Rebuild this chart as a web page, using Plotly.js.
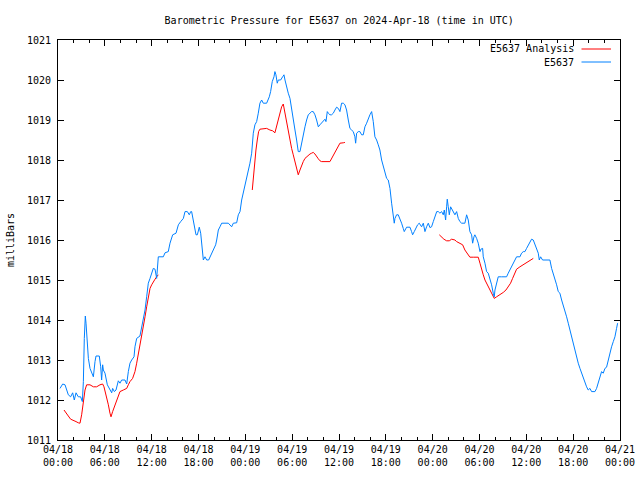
<!DOCTYPE html>
<html>
<head>
<meta charset="utf-8">
<script src="https://cdn.plot.ly/plotly-3.0.1.min.js"></script>
<style>html,body{margin:0;padding:0;background:#fff;}#chart{width:640px;height:480px;}</style>
</head>
<body>
<div id="chart"></div>
<script>
// Hours since 2024-04-18 00:00 UTC, and pressure in milliBars
const obsHours = [0.26,0.60,0.90,1.32,1.62,1.88,2.09,2.31,2.60,2.90,3.12,3.25,3.37,3.50,3.59,3.67,3.89,4.10,4.31,4.53,4.74,4.87,5.29,5.47,5.59,5.72,5.81,6.02,6.32,6.66,6.88,7.00,7.22,7.43,7.73,7.94,8.16,8.58,8.80,9.01,9.22,9.44,9.74,9.86,10.08,10.50,10.72,10.93,11.15,11.36,11.57,11.79,12.00,12.21,12.43,12.64,12.85,13.49,13.71,14.13,14.35,14.69,15.12,15.42,15.72,16.06,16.27,16.57,16.82,17.00,17.12,17.34,17.55,17.68,17.85,17.98,18.10,18.28,18.40,18.62,18.83,19.05,19.30,19.47,19.69,19.90,20.20,20.33,20.54,20.75,20.97,21.82,22.25,22.46,22.89,23.10,23.32,23.53,23.74,23.95,24.16,24.38,24.59,24.81,25.02,25.23,25.45,25.66,25.87,26.09,26.30,26.73,27.07,27.24,27.45,27.67,27.79,27.92,28.09,28.22,28.52,28.78,28.95,29.08,29.29,29.50,29.72,29.93,30.14,30.36,30.57,30.78,31.00,31.21,31.42,31.64,31.85,32.06,32.28,32.49,32.70,32.92,33.13,33.35,33.56,33.77,33.99,34.20,34.33,34.50,34.63,34.84,35.05,35.27,35.48,35.69,35.91,36.12,36.33,36.55,36.76,36.97,37.19,37.40,37.61,37.83,38.04,38.13,38.26,38.47,38.68,38.90,39.11,39.32,39.54,39.75,39.96,40.18,40.39,40.60,40.82,41.03,41.24,41.46,41.67,41.88,42.10,42.31,42.53,42.74,42.95,43.08,43.17,43.38,43.59,43.81,44.02,44.23,44.36,44.66,45.09,45.30,45.43,45.64,45.86,46.07,46.28,46.58,46.80,47.01,47.22,47.44,47.65,47.86,48.08,48.29,48.52,48.72,48.93,49.15,49.36,49.49,49.66,49.79,49.87,50.00,50.13,50.30,50.43,50.64,50.85,51.07,51.28,51.49,51.71,52.13,52.35,52.56,52.69,52.77,52.99,53.12,53.29,53.41,53.63,53.84,54.06,54.18,54.40,54.48,54.70,54.91,55.12,55.34,55.55,55.76,55.89,55.98,56.19,56.40,56.83,57.47,57.68,57.90,58.11,58.33,58.54,58.75,59.18,59.39,59.61,59.82,60.03,60.25,60.46,60.67,60.89,61.10,61.31,61.53,61.66,61.83,62.08,62.38,63.02,63.24,63.45,63.66,63.88,64.09,64.30,64.52,64.73,64.94,65.16,65.37,65.58,65.80,66.01,66.23,66.44,66.65,66.87,67.08,67.29,67.51,67.72,67.93,68.15,68.36,68.79,69.00,69.21,69.43,69.64,69.85,70.07,70.28,70.49,70.71,70.92,71.14,71.35,71.56,71.69];
const obsValues = [1012.29,1012.40,1012.38,1012.13,1012.08,1012.18,1012.00,1012.18,1012.08,1012.08,1011.96,1012.46,1013.54,1014.10,1013.92,1013.58,1013.04,1012.79,1012.67,1012.58,1012.96,1013.10,1013.10,1012.83,1012.50,1012.88,1012.75,1012.67,1012.38,1012.25,1012.18,1012.29,1012.21,1012.25,1012.48,1012.42,1012.50,1012.50,1012.40,1012.71,1012.92,1013.00,1013.08,1013.33,1013.54,1013.60,1013.83,1014.00,1014.25,1014.58,1014.92,1015.04,1015.17,1015.29,1015.27,1015.04,1015.58,1015.58,1015.68,1015.71,1015.92,1016.13,1016.17,1016.38,1016.46,1016.54,1016.71,1016.71,1016.63,1016.71,1016.71,1016.46,1016.25,1016.13,1016.13,1016.25,1016.32,1016.17,1015.88,1015.50,1015.58,1015.50,1015.50,1015.58,1015.68,1015.75,1015.88,1016.00,1016.25,1016.33,1016.42,1016.42,1016.33,1016.42,1016.43,1016.63,1016.71,1017.00,1017.17,1017.33,1017.50,1017.71,1017.92,1018.17,1018.67,1018.88,1018.96,1019.17,1019.42,1019.50,1019.42,1019.42,1019.58,1019.71,1019.96,1020.08,1020.21,1020.13,1019.92,1020.00,1020.00,1020.08,1020.13,1020.00,1019.79,1019.67,1019.54,1019.25,1019.00,1018.75,1018.50,1018.21,1018.21,1018.42,1018.67,1018.83,1019.00,1019.13,1019.17,1019.21,1019.21,1019.13,1019.00,1018.83,1018.88,1018.92,1018.96,1019.02,1018.96,1019.21,1019.17,1019.13,1019.13,1019.17,1019.25,1019.32,1019.29,1019.21,1019.42,1019.42,1019.38,1019.25,1019.00,1018.79,1018.75,1018.71,1018.58,1018.42,1018.67,1018.71,1018.71,1018.63,1018.63,1018.83,1018.92,1019.04,1019.13,1019.21,1018.96,1018.58,1018.50,1018.38,1018.25,1018.00,1017.83,1017.71,1017.54,1017.50,1017.29,1016.92,1016.67,1016.42,1016.54,1016.63,1016.63,1016.54,1016.42,1016.29,1016.21,1016.32,1016.32,1016.21,1016.13,1016.21,1016.31,1016.38,1016.42,1016.33,1016.42,1016.21,1016.33,1016.42,1016.31,1016.33,1016.46,1016.58,1016.71,1016.71,1016.67,1016.71,1016.63,1016.75,1016.50,1016.83,1017.02,1016.83,1016.63,1016.83,1016.79,1016.71,1016.63,1016.71,1016.54,1016.46,1016.42,1016.42,1016.63,1016.50,1016.33,1016.21,1016.13,1015.92,1016.08,1016.13,1016.04,1015.92,1015.71,1015.77,1015.79,1015.58,1015.42,1015.21,1015.17,1015.04,1014.88,1014.67,1014.58,1014.75,1014.92,1015.08,1015.08,1015.08,1015.17,1015.25,1015.33,1015.42,1015.50,1015.58,1015.58,1015.67,1015.71,1015.71,1015.79,1015.88,1015.96,1016.02,1016.00,1015.88,1015.79,1015.67,1015.50,1015.58,1015.50,1015.50,1015.50,1015.29,1015.17,1015.04,1014.88,1014.71,1014.67,1014.50,1014.38,1014.21,1014.08,1013.92,1013.75,1013.58,1013.42,1013.25,1013.08,1012.92,1012.79,1012.67,1012.54,1012.42,1012.33,1012.25,1012.29,1012.21,1012.21,1012.29,1012.42,1012.58,1012.71,1012.67,1012.79,1012.82,1013.00,1013.17,1013.33,1013.46,1013.58,1013.79,1013.92];

// Analysis series (null separates the three runs)
const anaHours = [0.77,1.02,1.32,1.62,1.96,2.31,2.60,2.82,3.03,3.24,3.46,3.67,4.10,4.53,4.95,5.38,5.72,5.89,6.23,6.45,6.66,6.79,7.00,7.30,7.51,7.73,7.94,8.37,8.80,9.01,9.22,9.56,9.86,10.08,10.29,10.50,10.72,10.93,11.15,11.36,11.57,11.79,12.00,12.21,12.43,12.64,12.85,
  18.0,
  24.89,25.02,25.23,25.36,25.53,25.70,25.87,26.30,26.73,27.15,27.50,27.79,28.01,28.22,28.43,28.65,28.86,29.08,29.29,29.50,29.72,29.93,30.14,30.36,30.57,30.78,31.00,31.21,31.42,31.64,31.85,32.06,32.28,32.49,32.70,32.92,33.13,33.35,33.56,33.77,34.84,35.05,35.27,35.48,35.69,35.91,36.12,36.55,36.76,
  42.0,
  48.85,49.15,49.44,49.79,50.13,50.43,50.85,51.07,51.41,51.84,52.13,52.43,52.77,53.20,53.84,54.06,54.27,54.48,54.70,54.91,55.12,55.34,55.55,55.76,55.89,56.19,56.62,57.05,57.39,57.68,57.98,58.24,58.54,58.75,59.18,59.61,60.03,60.46,60.89];
const anaValues = [1011.75,1011.67,1011.60,1011.52,1011.48,1011.46,1011.43,1011.42,1011.63,1012.00,1012.25,1012.38,1012.38,1012.33,1012.33,1012.38,1012.40,1012.33,1012.08,1011.88,1011.67,1011.58,1011.71,1011.88,1012.00,1012.13,1012.21,1012.25,1012.29,1012.38,1012.46,1012.54,1012.71,1012.92,1013.13,1013.38,1013.63,1013.83,1014.08,1014.33,1014.58,1014.79,1014.88,1014.96,1015.02,1015.08,1015.13,
  null,
  1017.25,1017.58,1017.92,1018.25,1018.50,1018.71,1018.77,1018.78,1018.79,1018.75,1018.73,1018.68,1018.83,1019.00,1019.17,1019.33,1019.40,1019.17,1018.96,1018.71,1018.46,1018.29,1018.13,1017.96,1017.83,1017.63,1017.75,1017.88,1017.96,1018.04,1018.08,1018.13,1018.15,1018.17,1018.19,1018.15,1018.08,1018.03,1017.98,1017.96,1017.96,1018.04,1018.13,1018.21,1018.29,1018.38,1018.42,1018.43,1018.44,
  null,
  1016.13,1016.07,1016.02,1015.98,1015.98,1016.02,1016.00,1015.96,1015.92,1015.88,1015.75,1015.67,1015.57,1015.57,1015.57,1015.42,1015.25,1015.13,1015.00,1014.92,1014.83,1014.75,1014.67,1014.58,1014.54,1014.58,1014.63,1014.69,1014.75,1014.83,1014.92,1015.04,1015.17,1015.27,1015.33,1015.38,1015.43,1015.50,1015.54];

const seriesNames = ['E5637 Analysis', 'E5637'];
const seriesColors = ['#ff0000', '#0080ff'];
const titleText = 'Barometric Pressure for E5637 on 2024-Apr-18 (time in UTC)';

const start = Date.UTC(2024, 3, 18, 0, 0, 0);
function toDate(h) {
  if (h === null) return null;
  const d = new Date(start + h * 3600000);
  return d.toISOString().replace('T', ' ').slice(0, 19);
}

const font = {family: 'DejaVu Sans Mono, monospace', size: 10, color: '#000'};

const traces = [
  {x: anaHours.map(toDate), y: anaValues, type: 'scatter', mode: 'lines', name: seriesNames[0],
   line: {color: seriesColors[0], width: 1}, connectgaps: false, showlegend: false},
  {x: obsHours.map(toDate), y: obsValues, type: 'scatter', mode: 'lines', name: seriesNames[1],
   line: {color: seriesColors[1], width: 1}, showlegend: false}
];

// legend keys drawn gnuplot-style (text left, line sample right)
const legendY = [0.9775, 0.945];
const annotations = seriesNames.map((n, i) => ({
  xref: 'paper', yref: 'paper', x: 0.922, y: legendY[i], xanchor: 'right', yanchor: 'middle',
  text: n, showarrow: false, font: font
}));
const shapes = seriesNames.map((n, i) => ({
  type: 'line', xref: 'paper', yref: 'paper', x0: 0.9315, x1: 0.984, y0: legendY[i], y1: legendY[i],
  line: {color: seriesColors[i], width: 1}
}));

const layout = {
  width: 640, height: 480,
  margin: {l: 58, r: 20, t: 40, b: 40, pad: 0},
  paper_bgcolor: '#fff', plot_bgcolor: '#fff',
  font: font,
  showlegend: false,
  title: {text: titleText, font: font, x: 0.53, xanchor: 'center', y: 0.958, yanchor: 'middle'},
  xaxis: {
    type: 'date', range: ['2024-04-18 00:00', '2024-04-21 00:00'],
    dtick: 6 * 3600000, tick0: '2024-04-18 00:00', tickformat: '%m/%d<br>%H:%M',
    ticks: 'inside', ticklen: 6, tickcolor: '#000', tickwidth: 1,
    minor: {dtick: 2 * 3600000, ticks: 'inside', ticklen: 3, tickcolor: '#000', showgrid: false},
    showgrid: false, zeroline: false, showline: true, linecolor: '#000', linewidth: 1, mirror: 'allticks',
    tickfont: font, fixedrange: true
  },
  yaxis: {
    range: [1011, 1021], dtick: 1, tickformat: 'd',
    ticks: 'inside', ticklen: 6, tickcolor: '#000', tickwidth: 1,
    showgrid: false, zeroline: false, showline: true, linecolor: '#000', linewidth: 1, mirror: 'allticks',
    tickfont: font, ticklabelstandoff: 4,
    title: {text: 'milliBars', font: font, standoff: 10}
  },
  annotations: annotations,
  shapes: shapes
};

Plotly.newPlot('chart', traces, layout, {staticPlot: true, displayModeBar: false});
</script>
</body>
</html>
